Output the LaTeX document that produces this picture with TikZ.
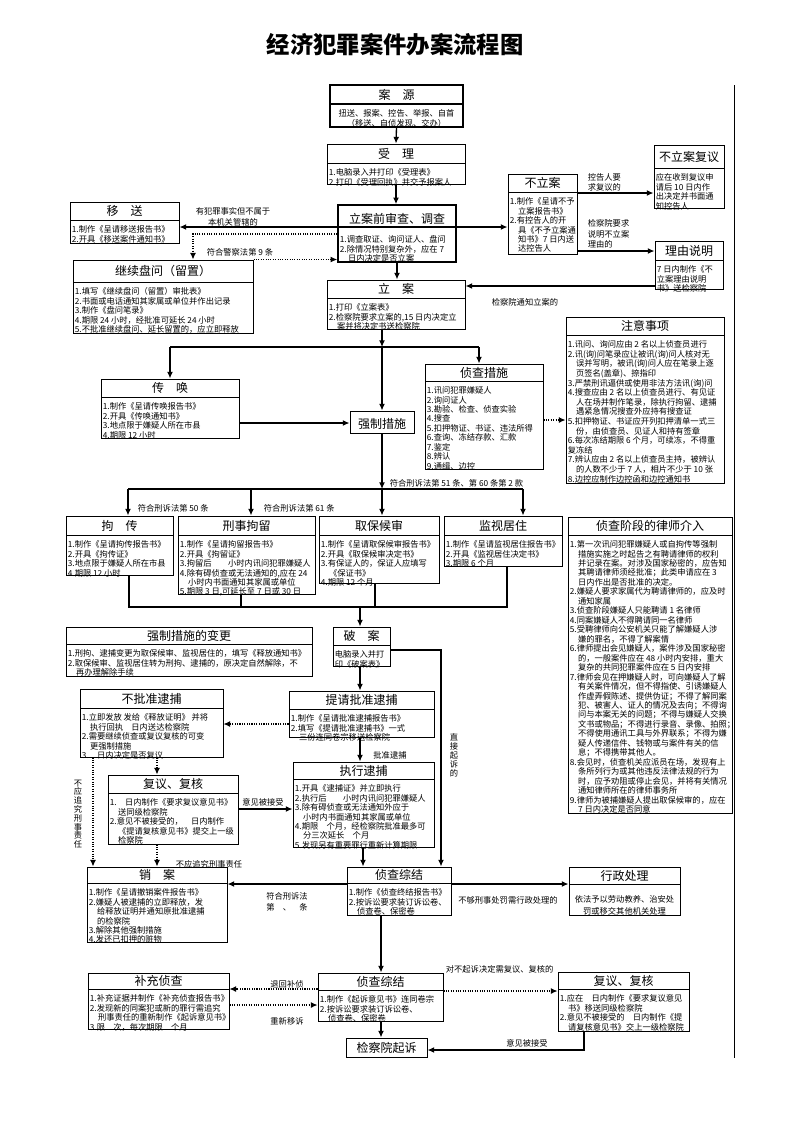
\documentclass[tikz,border=0pt]{standalone}
\usepackage{fontspec}
\setmainfont{Noto Sans CJK SC}
\usetikzlibrary{arrows.meta,fit,calc}
\tikzset{
  boxframe/.style={draw, line width=0.75pt, inner sep=0pt},
  titletext/.style={font=\fontsize{9}{10}\selectfont, inner sep=0pt},
  bodytext/.style={font=\fontsize{6.2}{7.1}\selectfont, align=left, inner xsep=1.2pt, inner ysep=4pt},
  lbl/.style={font=\fontsize{6.2}{8}\selectfont, inner sep=0.5pt, align=center},
  vlbl/.style={font=\fontsize{6.2}{6.6}\selectfont, inner sep=0.5pt, align=center},
  arr/.style={line width=1pt, -{Latex[length=5pt,width=4.5pt]}},
  dotarr/.style={line width=0.8pt, densely dotted, -{Latex[length=5pt,width=4.5pt]}},
  plain/.style={line width=1pt},
}
\newcommand{\flowbox}[9][]{%
  \node[boxframe,#1,fit={(#3,#4) (#5,#6)}] (#2) {};
  \draw[line width=0.75pt,#1] (#3,#7) -- (#5,#7);
  \node[titletext] (#2-t) at ({(#3+#5)/2},{(#4+#7)/2}) {#8};
  \node[bodytext,anchor=north west] (#2-b) at (#3,#7) {#9};
}
\begin{document}
\begin{tikzpicture}[x=0.75pt,y=-0.75pt]
\fill[white] (0,0) rectangle (793,1122);
\useasboundingbox (0,0) rectangle (793,1122);

\node[font=\bfseries\fontsize{17.5}{20}\selectfont] (ttl) at (395,45) {经济犯罪案件办案流程图};

% ---------- boxes ----------
\flowbox[line width=1.1pt]{ay}{330}{85}{463}{127}{104}{案　源}{}
\node[bodytext,align=center,anchor=north] (ay-c) at (396.5,104) {扭送、报案、控告、举报、自首\\（移送、自侦发现、交办）};

\flowbox{sl}{327}{144}{465}{184}{163}{受　理}{1.电脑录入并打印《受理表》\\2.打印《受理回执》并交予报案人}

\node[boxframe,line width=1.2pt,fit={(338,205) (456,262)}] (lqs) {};
\node[titletext] (lqs-t) at (397,219) {立案前审查、调查};
\node[bodytext,anchor=north west] (lqs-b) at (338,230) {1.调查取证、询问证人、盘问\\2.除情况特别复杂外，应在 7\\　日内决定是否立案};

\flowbox{ys}{70}{202}{179}{243}{220}{移　送}{1.制作《呈请移送报告书》\\2.开具《移送案件通知书》}

\flowbox{jx}{73}{260}{253}{333}{282}{继续盘问（留置）}{1.填写《继续盘问（留置）审批表》\\2.书面或电话通知其家属或单位并作出记录\\3.制作《盘问笔录》\\4.期限 24 小时，经批准可延长 24 小时\\5.不批准继续盘问、延长留置的，应立即释放}

\flowbox{la}{327}{280}{465}{329}{298}{立　案}{1.打印《立案表》\\2.检察院要求立案的,15 日内决定立\\　案并将决定书送检察院}

\flowbox{bla}{508}{174}{577}{254}{192}{不立案}{1.制作《呈请不予\\　立案报告书》\\2.有控告人的开\\　具《不予立案通\\　知书》7 日内送\\　达控告人}

\flowbox{blafy}{654}{145}{724}{208}{168}{不立案复议}{应在收到复议申\\请后 10 日内作\\出决定并书面通\\知控告人}

\flowbox{lysm}{655}{241}{723}{289}{260}{理由说明}{7 日内制作《不\\立案理由说明\\书》送检察院}

\begin{scope}[bodytext/.append style={font=\fontsize{6.2}{7.2}\selectfont}]
\flowbox{zysx}{566}{317}{724}{483}{335}{注意事项}{1.讯问、询问应由 2 名以上侦查员进行\\2.讯(询)问笔录应让被讯(询)问人核对无\\　误并写明，被讯(询)问人应在笔录上逐\\　页签名(盖章)、捺指印\\3.严禁刑讯逼供或使用非法方法讯(询)问\\4.搜查应由 2 名以上侦查员进行、有见证\\　人在场并制作笔录，除执行拘留、逮捕\\　遇紧急情况搜查外应持有搜查证\\5.扣押物证、书证应开列扣押清单一式三\\　份，由侦查员、见证人和持有签章\\6.每次冻结期限 6 个月，可续冻，不得重\\复冻结\\7.辨认应由 2 名以上侦查员主持，被辨认\\　的人数不少于 7 人，相片不少于 10 张\\8.边控应制作边控函和边控通知书}
\end{scope}

\flowbox{ch}{101}{379}{239}{438}{397}{传　唤}{1.制作《呈请传唤报告书》\\2.开具《传唤通知书》\\3.地点限于嫌疑人所在市县\\4.期限 12 小时}

\node[boxframe,fit={(350,411) (414,433)}] (qzcs) {};
\node[titletext] (qzcs-t) at (382,424) {强制措施};

\flowbox{zccs}{425}{364}{543}{469}{381}{侦查措施}{1.讯问犯罪嫌疑人\\2.询问证人\\3.勘验、检查、侦查实验\\4.搜查\\5.扣押物证、书证、违法所得\\6.查询、冻结存款、汇款\\7.鉴定\\8.辨认\\9.通缉、边控}

\flowbox{jc}{66}{516}{173}{575}{535}{拘　传}{1.制作《呈请拘传报告书》\\2.开具《拘传证》\\3.地点限于嫌疑人所在市县\\4.期限 12 小时}

\flowbox{xsjl}{178}{516}{315}{594}{535}{刑事拘留}{1.制作《呈请拘留报告书》\\2.开具《拘留证》\\3.拘留后　　小时内讯问犯罪嫌疑人\\4.除有碍侦查或无法通知的,应在 24\\　小时内书面通知其家属或单位\\5.期限 3 日,可延长至 7 日或 30 日}

\flowbox{qbhs}{319}{516}{439}{583}{535}{取保候审}{1.制作《呈请取保候审报告书》\\2.开具《取保候审决定书》\\3.有保证人的，保证人应填写\\　《保证书》\\4.期限 12 个月}

\flowbox{jsjz}{444}{516}{562}{566}{535}{监视居住}{1.制作《呈请监视居住报告书》\\2.开具《监视居住决定书》\\3.期限 6 个月}

\flowbox{lsjr}{568}{517}{732}{813}{535}{侦查阶段的律师介入}{1.第一次讯问犯罪嫌疑人或自拘传等强制\\　措施实施之时起告之有聘请律师的权利\\　并记录在案。对涉及国家秘密的，应告知\\　其聘请律师须经批准；此类申请应在 3\\　日内作出是否批准的决定。\\2.嫌疑人要求家属代为聘请律师的，应及时\\　通知家属\\3.侦查阶段嫌疑人只能聘请 1 名律师\\4.同案嫌疑人不得聘请同一名律师\\5.受聘律师向公安机关只能了解嫌疑人涉\\　嫌的罪名，不得了解案情\\6.律师提出会见嫌疑人，案件涉及国家秘密\\　的，一般案件应在 48 小时内安排，重大\\　复杂的共同犯罪案件应在 5 日内安排\\7.律师会见在押嫌疑人时，可向嫌疑人了解\\　有关案件情况，但不得指使、引诱嫌疑人\\　作虚弄假陈述、提供伪证；不得了解同案\\　犯、被害人、证人的情况及去向；不得询\\　问与本案无关的问题；不得与嫌疑人交换\\　文书或物品；不得进行录音、录像、拍照；\\　不得使用通讯工具与外界联系；不得为嫌\\　疑人传递信件、钱物或与案件有关的信\\　息；不得携带其他人。\\8.会见时，侦查机关应派员在场，发现有上\\　条所列行为或其他违反法律法规的行为\\　时，应予劝阻或停止会见，并将有关情况\\　通知律师所在的律师事务所\\9.律师为被捕嫌疑人提出取保候审的，应在\\　7 日内决定是否同意}

\flowbox{bgbg}{66}{627}{312}{676}{644}{强制措施的变更}{1.刑拘、逮捕变更为取保候审、监视居住的，填写《释放通知书》\\2.取保候审、监视居住转为刑拘、逮捕的，原决定自然解除，不\\　再办理解除手续}

\flowbox{pa}{333}{627}{390}{666}{645}{破　案}{电脑录入并打\\印《破案表》}

\flowbox{tqdb}{289}{691}{434}{737}{709}{提请批准逮捕}{1.制作《呈请批准逮捕报告书》\\2.填写《提请批准逮捕书》一式\\　三份连同卷宗移送检察院}

\flowbox{bpz}{80}{689}{223}{757}{708}{不批准逮捕}{1.立即发放 发给《释放证明》 并将\\　执行回执　日内送达检察院\\2.需要继续侦查或复议复核的可变\\　更强制措施\\3.　日内决定是否复议}

\flowbox{zxdb}{293}{762}{434}{847}{779}{执行逮捕}{1.开具《逮捕证》并立即执行\\2.执行后　　小时内讯问犯罪嫌疑人\\3.除有碍侦查或无法通知外应于\\　小时内书面通知其家属或单位\\4.期限　个月，经检察院批准最多可\\　分三次延长　个月\\5.发现另有重要罪行重新计算期限}

\flowbox{fyfh1}{108}{775}{238}{844}{793}{复议、复核}{1.　日内制作《要求复议意见书》\\　送同级检察院\\2.意见不被接受的，　日内制作\\　《提请复核意见书》提交上一级\\　检察院}

\flowbox{xa}{87}{867}{227}{942}{883}{销　案}{1.制作《呈请撤销案件报告书》\\2.嫌疑人被逮捕的立即释放，发\\　给释放证明并通知原批准逮捕\\　的检察院\\3.解除其他强制措施\\4.发还已扣押的赃物}

\flowbox{zczj1}{347}{867}{451}{915}{883}{侦查综结}{1.制作《侦查终结报告书》\\2.按诉讼要求装订诉讼卷、\\　侦查卷、保密卷}

\flowbox{xzcl}{569}{867}{680}{915}{884}{行政处理}{}
\node[font=\fontsize{6.2}{9}\selectfont,align=center,inner sep=0pt] (xzcl-c) at (624.5,905) {依法予以劳动教养、治安处\\罚或移交其他机关处理};

\flowbox{bccz}{88}{973}{229}{1029}{989}{补充侦查}{1.补充证据并制作《补充侦查报告书》\\2.发现新的同案犯或新的罪行需追究\\　刑事责任的重新制作《起诉意见书》\\3.限　次，每次期限　个月}

\flowbox{zczj2}{318}{973}{443}{1021}{990}{侦查综结}{1.制作《起诉意见书》连同卷宗\\2.按诉讼要求装订诉讼卷、\\　侦查卷、保密卷}

\node[boxframe,fit={(346,1038) (427,1057)}] (jcyqs) {};
\node[titletext] (jcyqs-t) at (386.5,1047.5) {检察院起诉};

\flowbox{fyfh2}{558}{972}{689}{1031}{989}{复议、复核}{1.应在　日内制作《要求复议意见\\　书》移送同级检察院\\2.意见不被接受的　日内制作《提\\　请复核意见书》交上一级检察院}

% ---------- connectors ----------
\draw[arr] (ay.south) -- (sl.north);
\draw[arr] (sl.south) -- (sl.south |- lqs.north);
\draw[arr] (lqs.south) -- (lqs.south |- la.north);

\coordinate (yA) at (0,227);
\draw[line width=1pt] (lqs.west |- yA) -- (lqs.east |- yA);
\draw[arr] (lqs.west |- yA) -- (ys.east |- yA);
\draw[arr] (lqs.east |- yA) -- (bla.west |- yA);
\node[lbl] (l1) at (233,217) {有犯罪事实但不属于\\本机关管辖的};

\coordinate (dA) at (193,234);
\draw[dotarr] (lqs.west |- dA) -- (dA) -- (dA |- jx.north);
\draw[dotarr] (jx.north east) -- (jx.north east -| lqs.west);
\node[lbl] (l2) at (240,252) {符合警察法第 9 条};

\coordinate (yB) at (0,193);
\draw[arr] (bla.east |- yB) -- (blafy.west |- yB);
\node[lbl,anchor=west,align=left] (l3) at (587,182.5) {控告人要\\求复议的};
\coordinate (yC) at (0,251);
\draw[arr] (bla.east |- yC) -- (lysm.west |- yC);
\node[lbl,anchor=west,align=left] (l4) at (587,234) {检察院要求\\说明不立案\\理由的};
\coordinate (yD) at (0,286);
\draw[arr] (lysm.west |- yD) -- (la.east |- yD);
\node[lbl] (l5) at (525,302) {检察院通知立案的};

\coordinate (sp1) at (382,347);
\coordinate (sp1L) at (170,347);
\coordinate (sp1R) at (479,347);
\draw[arr] (la.south -| sp1) -- (sp1);
\draw[plain] (sp1L) -- (sp1R);
\draw[arr] (sp1L) -- (sp1L |- ch.north);
\draw[arr] (sp1R) -- (sp1R |- zccs.north);
\draw[arr] (sp1) -- (sp1 |- qzcs.north);

\coordinate (yE) at (0,423);
\draw[arr] (ch.east |- yE) -- (qzcs.west |- yE);
\coordinate (yF) at (0,420);
\draw[dotarr] (zccs.east |- yF) -- (zysx.west |- yF);

\coordinate (sp2) at (382,489);
\coordinate (sp2a) at (128,489);
\coordinate (sp2b) at (251,489);
\coordinate (sp2d) at (523,489);
\draw[arr] (qzcs.south -| sp2) -- (sp2);
\draw[plain] (sp2a) -- (sp2d);
\draw[arr] (sp2a) -- (sp2a |- jc.north);
\draw[arr] (sp2b) -- (sp2b |- xsjl.north);
\draw[arr] (sp2) -- (sp2 |- qbhs.north);
\draw[arr] (sp2d) -- (sp2d |- jsjz.north);
\node[lbl,anchor=west] (l6) at (389,483) {符合刑诉法第 51 条、第 60 条第 2 款};
\node[lbl,anchor=west] (l7) at (137,508) {符合刑诉法第 50 条};
\node[lbl,anchor=west] (l8) at (263,508) {符合刑诉法第 61 条};

\coordinate (m1) at (129,607);
\coordinate (m2) at (241,607);
\coordinate (m3) at (375,607);
\coordinate (m4) at (507,607);
\coordinate (m0) at (360,607);
\draw[plain] (m1 |- jc.south) -- (m1) -- (m4) -- (m4 |- jsjz.south);
\draw[plain] (m2 |- xsjl.south) -- (m2);
\draw[plain] (m3 |- qbhs.south) -- (m3);
\draw[arr] (m0) -- (m0 |- pa.north);

\draw[arr] (pa.south -| m0) -- (m0 |- tqdb.north);
\coordinate (zj) at (441,650);
\draw[arr] (pa.east |- zj) -- (zj) -- (zj |- zczj1.north);
\node[vlbl,font=\fontsize{6.2}{6.8}\selectfont] (l9) at (454,755) {直\\接\\起\\诉\\的};

\coordinate (yG) at (0,724);
\draw[dotarr] (tqdb.west |- yG) -- (bpz.east |- yG);
\draw[arr] (tqdb.south -| m0) -- (m0 |- zxdb.north);
\node[lbl] (l10) at (390,755) {批准逮捕};

\coordinate (xB) at (157,0);
\coordinate (xC) at (93,0);
\draw[dotarr] (bpz.south -| xB) -- (fyfh1.north -| xB);
\draw[dotarr] (bpz.south -| xC) -- (xa.north -| xC);
\node[vlbl] (l11) at (78,814) {不\\应\\追\\究\\刑\\事\\责\\任};

\coordinate (yH) at (0,809);
\draw[arr] (fyfh1.east |- yH) -- (zxdb.west |- yH);
\node[lbl] (l12) at (263,802) {意见被接受};
\draw[dotarr] (fyfh1.south -| xB) -- (xa.north -| xB);
\coordinate (xD) at (363,0);
\draw[arr] (zxdb.south -| xD) -- (zczj1.north -| xD);

\coordinate (yI) at (0,884);
\draw[arr] (zczj1.west |- yI) -- (xa.east |- yI);
\node[lbl] (l13) at (287,902) {符合刑诉法\\第　、　条};
\node[lbl] (l14) at (209,864) {不应追究刑事责任};
\draw[arr] (zczj1.east |- yI) -- (xzcl.west |- yI);
\node[lbl] (l15) at (508,900) {不够刑事处罚需行政处理的};

\coordinate (xE) at (381,0);
\draw[arr] (zczj1.south -| xE) -- (zczj2.north -| xE);
\coordinate (yJ) at (0,989);
\coordinate (yK) at (0,1005);
\coordinate (yL) at (0,991);
\draw[dotarr] (zczj2.west |- yJ) -- (bccz.east |- yJ);
\node[lbl] (l16) at (287,984) {退回补侦};
\draw[dotarr] (bccz.east |- yK) -- (zczj2.west |- yK);
\node[lbl] (l17) at (287,1021) {重新移诉};
\draw[dotarr] (zczj2.east |- yL) -- (fyfh2.west |- yL);
\node[lbl,anchor=west] (l18) at (445,969) {对不起诉决定需复议、复核的};
\draw[arr] (zczj2.south -| xE) -- (jcyqs.north -| xE);
\coordinate (fz) at (584,1050);
\draw[arr] (fyfh2.south -| fz) -- (fz) -- (jcyqs.east |- fz);
\node[lbl] (l19) at (527,1043) {意见被接受};

\coordinate (rt) at (734,85);
\coordinate (rb) at (734,1058);
\draw[line width=0.6pt] (rt) -- (rb);
\end{tikzpicture}
\end{document}
